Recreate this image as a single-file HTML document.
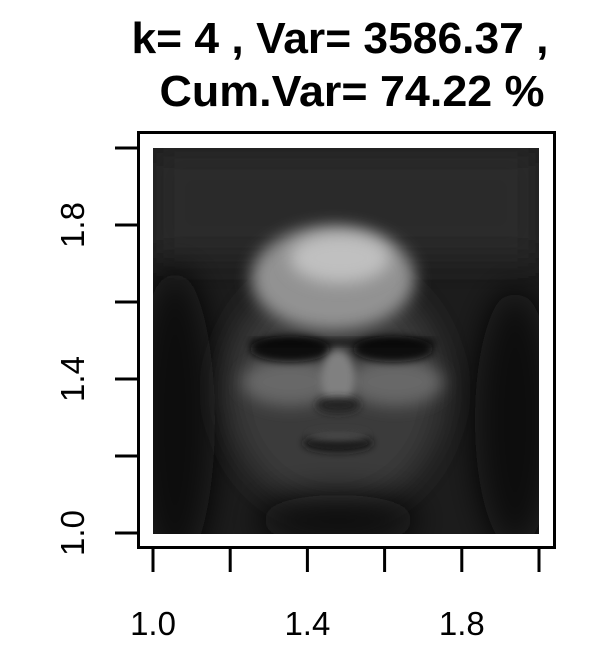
<!DOCTYPE html>
<html><head><meta charset="utf-8"><style>
html,body{margin:0;padding:0;background:#fff;}
svg{display:block;font-family:"Liberation Sans",Arial,sans-serif;}
</style></head><body>
<svg id="c" width="607" height="667" viewBox="0 0 607 667">
<defs>
<filter id="b8" x="-100%" y="-100%" width="300%" height="300%"><feGaussianBlur stdDeviation="8"/></filter>
<filter id="b4" x="-100%" y="-100%" width="300%" height="300%"><feGaussianBlur stdDeviation="4"/></filter>
<filter id="b14" x="-100%" y="-100%" width="300%" height="300%"><feGaussianBlur stdDeviation="16"/></filter>
<clipPath id="clip"><rect x="153" y="148" width="386" height="386"/></clipPath>
</defs>
<text x="340" y="53" text-anchor="middle" font-size="44" font-weight="bold" textLength="417" lengthAdjust="spacingAndGlyphs">k= 4 , Var= 3586.37 ,</text>
<text x="352" y="106" text-anchor="middle" font-size="44" font-weight="bold" textLength="385" lengthAdjust="spacingAndGlyphs">Cum.Var= 74.22 %</text>
<g clip-path="url(#clip)">
<rect x="153" y="148" width="386" height="386" fill="#1c1c1c"/>
<rect x="153" y="148" width="386" height="110" fill="#2c2c2c" filter="url(#b14)"/>
<ellipse cx="175" cy="420" rx="40" ry="150" fill="#0a0a0a" filter="url(#b14)"/>
<ellipse cx="515" cy="420" rx="40" ry="130" fill="#0e0e0e" filter="url(#b14)"/>
<ellipse cx="335" cy="390" rx="110" ry="120" fill="#3a3a3a" filter="url(#b14)"/>
<ellipse cx="333" cy="278" rx="82" ry="52" fill="#929292" filter="url(#b8)"/>
<ellipse cx="340" cy="258" rx="50" ry="25" fill="#c0c0c0" filter="url(#b8)"/>
<ellipse cx="290" cy="382" rx="48" ry="24" fill="#686868" filter="url(#b8)"/>
<ellipse cx="395" cy="382" rx="48" ry="24" fill="#686868" filter="url(#b8)"/>
<ellipse cx="290" cy="349" rx="40" ry="13" fill="#111" filter="url(#b4)"/>
<ellipse cx="393" cy="349" rx="40" ry="13" fill="#111" filter="url(#b4)"/>
<rect x="250" y="340" width="185" height="4" fill="#000" filter="url(#b4)"/>
<ellipse cx="338" cy="378" rx="17" ry="28" fill="#808080" filter="url(#b4)"/>
<ellipse cx="338" cy="405" rx="22" ry="8" fill="#222" filter="url(#b4)"/>
<ellipse cx="338" cy="443" rx="35" ry="9" fill="#181818" filter="url(#b4)"/>
<ellipse cx="338" cy="436" rx="30" ry="5" fill="#4e4e4e" filter="url(#b4)"/>
<ellipse cx="338" cy="520" rx="80" ry="25" fill="#0e0e0e" filter="url(#b14)"/>
</g>
<rect x="138.5" y="132.5" width="416" height="415" fill="none" stroke="#000" stroke-width="3"/>
<g id="xaxis"></g>
<g id="yaxis"></g>
<script>
const xTicks=[1.0,1.2,1.4,1.6,1.8,2.0];
const yTicks=[1.0,1.2,1.4,1.6,1.8,2.0];
const xLabels=["1.0","","1.4","","1.8",""];
const yLabels=["1.0","","1.4","","1.8",""];
const NS="http://www.w3.org/2000/svg";
function sx(v){return 153+(v-1)*386;}
function sy(v){return 533-(v-1)*385;}
const xa=document.getElementById('xaxis'),ya=document.getElementById('yaxis');
xTicks.forEach((v,i)=>{
 const l=document.createElementNS(NS,'line');
 l.setAttribute('x1',sx(v));l.setAttribute('x2',sx(v));l.setAttribute('y1',549);l.setAttribute('y2',572);
 l.setAttribute('stroke','#000');l.setAttribute('stroke-width',3);
 
 
 xa.appendChild(l);
 if(xLabels[i]){const t=document.createElementNS(NS,'text');
 t.setAttribute('x',sx(v));t.setAttribute('y',635);t.setAttribute('text-anchor','middle');t.setAttribute('font-size','33');
 t.textContent=xLabels[i];
 
 
 xa.appendChild(t);}
});
yTicks.forEach((v,i)=>{
 const l=document.createElementNS(NS,'line');
 l.setAttribute('y1',sy(v));l.setAttribute('y2',sy(v));l.setAttribute('x1',115);l.setAttribute('x2',138);
 l.setAttribute('stroke','#000');l.setAttribute('stroke-width',3);
 
 
 ya.appendChild(l);
 if(yLabels[i]){const t=document.createElementNS(NS,'text');
 t.setAttribute('transform','translate(84,'+sy(v)+') rotate(-90)');t.setAttribute('text-anchor','middle');t.setAttribute('font-size','33');
 t.textContent=yLabels[i];
 
 
 ya.appendChild(t);}
});
</script>
</svg>
</body></html>
